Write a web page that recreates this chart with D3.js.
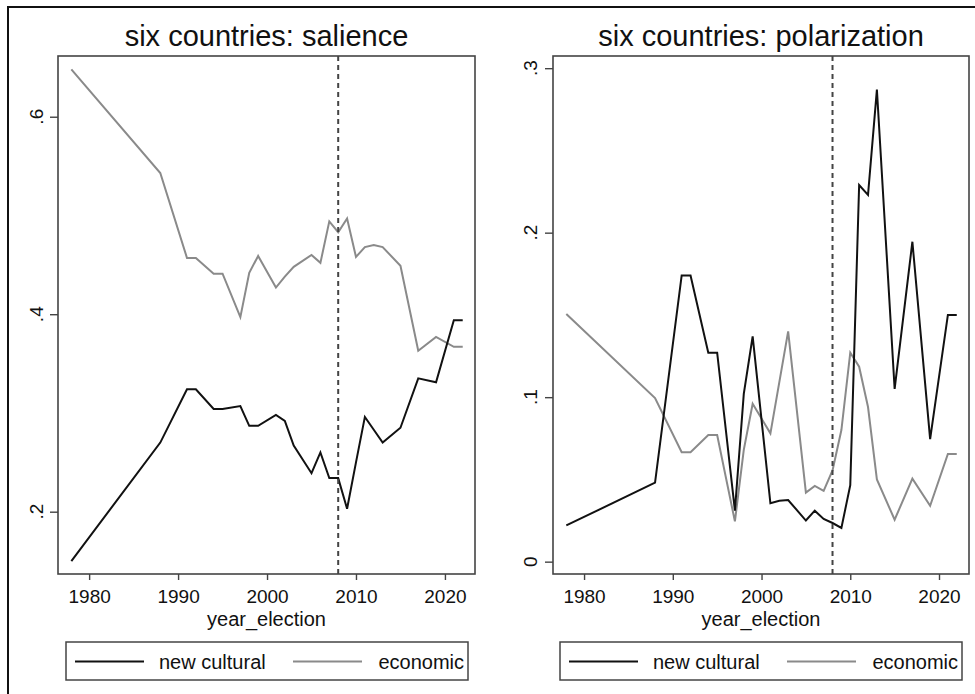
<!DOCTYPE html>
<html><head><meta charset="utf-8">
<script src="https://cdn.jsdelivr.net/npm/d3@7"></script>
<style>
html,body{margin:0;padding:0;background:#fff;}
svg text{font-family:"Liberation Sans",Arial,Helvetica,sans-serif;fill:#111;}
</style></head>
<body><svg id="c" width="975" height="694"></svg>
<script>
const years = [1978,1988,1991,1992,1994,1995,1997,1998,1999,2001,2002,2003,2005,2006,2007,2008,2009,2010,2011,2012,2013,2015,2017,2019,2021,2022];
const salienceCultural = [.150,.270,.324,.324,.304,.304,.307,.287,.287,.298,.292,.267,.239,.260,.234,.234,.203,.250,.296,.283,.270,.285,.335,.331,.394,.394];
const salienceEconomic = [.648,.543,.457,.457,.441,.441,.397,.442,.459,.427,.438,.448,.460,.452,.494,.483,.497,.458,.468,.470,.468,.449,.363,.377,.367,.367];
const polarCultural = [.022,.048,.174,.174,.127,.127,.031,.102,.137,.0355,.037,.0375,.025,.031,.026,.0235,.0205,.0465,.229,.223,.287,.105,.1945,.0745,.150,.150];
const polarEconomic = [.1505,.0995,.0665,.0665,.077,.077,.0245,.068,.096,.078,.109,.140,.042,.046,.043,.0555,.080,.127,.1185,.094,.050,.0255,.0505,.034,.0655,.0655];
const xTicks = [1980,1990,2000,2010,2020];
const salienceTicks = [.2,.4,.6];
const polarTicks = [0,.1,.2,.3];
const tickFmt = v => v === 0 ? "0" : String(v).replace(/^0/, "");
const seriesNames = ["new cultural","economic"];
const titles = ["six countries: salience","six countries: polarization"];
const cutYear = 2008;

const svg = d3.select("#c");
svg.append("rect").attr("x",8).attr("y",7).attr("width",1000).attr("height",720)
  .attr("fill","none").attr("stroke","#111").attr("stroke-width",2);

const panels = [
  {x0:58,x1:475,yDom:[0.1369,0.6615],yTicks:salienceTicks,labX:43,c:salienceCultural,e:salienceEconomic,title:titles[0],leg:[66,468]},
  {x0:553,x1:969,yDom:[-0.0075,0.3074],yTicks:polarTicks,labX:537,c:polarCultural,e:polarEconomic,title:titles[1],leg:[560,962]}
];
const plotTop=56, plotBottom=574;

panels.forEach(p=>{
  const x = d3.scaleLinear().domain([1976.5,2023.38]).range([p.x0,p.x1]);
  const y = d3.scaleLinear().domain(p.yDom).range([plotBottom,plotTop]);
  const g = svg.append("g");
  g.append("text").attr("x",(p.x0+p.x1)/2).attr("y",46).attr("text-anchor","middle")
    .attr("font-size",29).text(p.title);
  const line = vals => d3.line().x((d,i)=>x(years[i])).y(d=>y(d))(vals);
  g.append("path").attr("d",line(p.e)).attr("fill","none").attr("stroke","#8a8a8a").attr("stroke-width",2);
  g.append("path").attr("d",line(p.c)).attr("fill","none").attr("stroke","#111").attr("stroke-width",2);
  g.append("line").attr("x1",x(cutYear)).attr("x2",x(cutYear)).attr("y1",plotTop).attr("y2",plotBottom)
    .attr("stroke","#444").attr("stroke-width",2).attr("stroke-dasharray","5,4");
  g.append("rect").attr("x",p.x0).attr("y",plotTop).attr("width",p.x1-p.x0).attr("height",plotBottom-plotTop)
    .attr("fill","none").attr("stroke","#444").attr("stroke-width",1.6);
  const xa = g.append("g").attr("transform",`translate(0,${plotBottom})`)
    .call(d3.axisBottom(x).tickValues(xTicks).tickFormat(d3.format("d")).tickSize(6).tickPadding(10));
  xa.select(".domain").remove();
  xa.selectAll("line").attr("stroke","#444").attr("stroke-width",1.4);
  xa.selectAll("text").attr("font-size",19).attr("fill","#111").attr("font-family","Liberation Sans, Arial, sans-serif");
  const ya = g.append("g").attr("transform",`translate(${p.x0},0)`)
    .call(d3.axisLeft(y).tickValues(p.yTicks).tickFormat(tickFmt).tickSize(8));
  ya.select(".domain").remove();
  ya.selectAll("line").attr("stroke","#444").attr("stroke-width",1.4);
  ya.selectAll("text").remove();
  p.yTicks.forEach(t=>{
    g.append("text").attr("transform",`translate(${p.labX},${y(t)}) rotate(-90)`)
      .attr("text-anchor","middle").attr("font-size",19).text(tickFmt(t));
  });
  g.append("text").attr("x",(p.x0+p.x1)/2).attr("y",626).attr("text-anchor","middle")
    .attr("font-size",20).text("year_election");
  const [lx0,lx1] = p.leg;
  g.append("rect").attr("x",lx0).attr("y",642).attr("width",lx1-lx0).attr("height",38)
    .attr("fill","none").attr("stroke","#444").attr("stroke-width",1.5);
  const ly = 661.5;
  g.append("line").attr("x1",lx0+9).attr("x2",lx0+78).attr("y1",ly).attr("y2",ly).attr("stroke","#111").attr("stroke-width",2);
  g.append("text").attr("x",lx0+93).attr("y",669).attr("font-size",20).text(seriesNames[0]);
  g.append("line").attr("x1",lx0+227).attr("x2",lx0+296).attr("y1",ly).attr("y2",ly).attr("stroke","#8a8a8a").attr("stroke-width",2);
  g.append("text").attr("x",lx1-4).attr("y",669).attr("text-anchor","end").attr("font-size",20).text(seriesNames[1]);
});
</script></body></html>
